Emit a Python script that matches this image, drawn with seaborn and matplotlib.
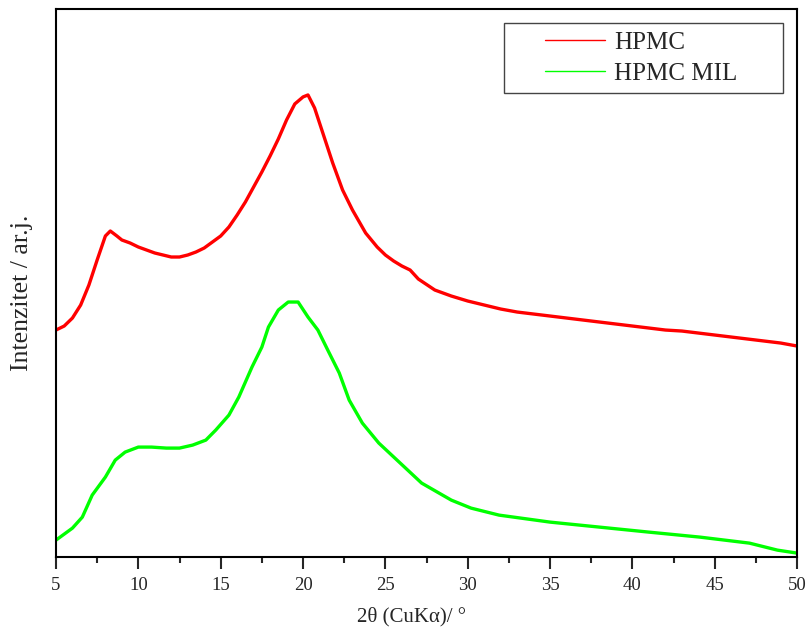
import pandas as pd
import seaborn as sns
import matplotlib.pyplot as plt
from matplotlib.ticker import MultipleLocator
from matplotlib.lines import Line2D
from matplotlib.patches import Rectangle

# XRD patterns (arbitrary intensity units)
two_theta_hpmc = [5, 5.5, 6, 6.5, 7, 7.5, 8, 8.3, 8.7, 9, 9.5, 10, 10.5, 11, 11.5, 12, 12.5,
                  13, 13.5, 14, 14.5, 15, 15.5, 16, 16.5, 17, 17.5, 18, 18.5, 19, 19.5, 20,
                  20.3, 20.7, 21.2, 21.8, 22.4, 23, 23.8, 24.5, 25, 25.5, 26, 26.5, 27, 28,
                  29, 30, 31, 32, 33, 34, 35, 36, 37, 38, 39, 40, 41, 42, 43, 44, 45, 46,
                  47, 48, 49, 50]
intensity_hpmc = [227, 231, 239, 252, 272, 297, 321, 326, 321, 317, 314, 310, 307, 304, 302,
                  300, 300, 302, 305, 309, 315, 321, 330, 342, 355, 370, 385, 401, 418, 437,
                  453, 460, 462, 449, 424, 394, 367, 347, 324, 310, 302, 296, 291, 287, 278,
                  267, 261, 256, 252, 248, 245, 243, 241, 239, 237, 235, 233, 231, 229, 227,
                  226, 224, 222, 220, 218, 216, 214, 211]

two_theta_mil = [5, 5.5, 6, 6.6, 7.2, 8, 8.6, 9.2, 10, 10.8, 11.7, 12.5, 13.3, 14.1, 14.7,
                 15.5, 16.1, 16.9, 17.5, 17.9, 18.5, 19.1, 19.7, 20.3, 20.9, 21.5, 22.2,
                 22.8, 23.6, 24.6, 25.9, 27.2, 29, 30.2, 31.9, 35, 38, 41, 44.1, 47.1, 48.8, 50]
intensity_mil = [17, 23, 29, 40, 62, 80, 97, 105, 110, 110, 109, 109, 112, 117, 127, 142, 160,
                 190, 210, 230, 247, 255, 255, 240, 227, 207, 184, 157, 134, 114, 94, 74, 57,
                 49, 42, 35, 30, 25, 20, 14, 7, 4]

labels = ["HPMC", "HPMC MIL"]
colors = ["#ff0000", "#00ff00"]

df = pd.concat([
    pd.DataFrame({"2theta": two_theta_hpmc, "I": intensity_hpmc, "sample": labels[0]}),
    pd.DataFrame({"2theta": two_theta_mil, "I": intensity_mil, "sample": labels[1]}),
])

sns.set_style("white")
plt.rcParams["font.family"] = ["Liberation Serif", "DejaVu Serif"]

fig = plt.figure(figsize=(8.11, 6.36), dpi=100)
ax = fig.add_axes([0.069, 0.124, 0.914, 0.862])

sns.lineplot(data=df, x="2theta", y="I", hue="sample", palette=colors,
             linewidth=2.4, ax=ax, legend=False, estimator=None, sort=False)

ax.set_xlim(5, 50)
ax.set_ylim(0, 548)
ax.xaxis.set_major_locator(MultipleLocator(5))
ax.xaxis.set_minor_locator(MultipleLocator(2.5))
ax.tick_params(axis="x", which="major", direction="out", length=8.5, width=1.5,
               labelsize=13.5, pad=5.5, bottom=True, top=False)
ax.tick_params(axis="x", which="minor", direction="out", length=4.5, width=1.5, bottom=True)
ax.set_yticks([])
for sp in ax.spines.values():
    sp.set_linewidth(1.5)
    sp.set_color("black")

ax.set_xlabel("2θ (CuKα)/ °", fontsize=15)
ax.set_ylabel("Intenzitet / ar.j.", fontsize=18.5)
ax.xaxis.set_label_coords(0.48, -0.09)
ax.yaxis.set_label_coords(-0.031, 0.482)

# legend: wide frame drawn separately, entries placed inside it
ax.add_patch(Rectangle((0.6046, 0.8467), 0.3764, 0.1278, transform=ax.transAxes,
                       fill=False, edgecolor="#444444", linewidth=1.0, zorder=5))
handles = [Line2D([], [], color=c, lw=1) for c in colors]
ax.legend(handles, labels, loc="center left", bbox_to_anchor=(0.66, 0.91),
          fontsize=18, frameon=False, handlelength=2.4, handletextpad=0.35,
          borderpad=0, labelspacing=0.32, borderaxespad=0)

fig.savefig("out.png", dpi=100)
